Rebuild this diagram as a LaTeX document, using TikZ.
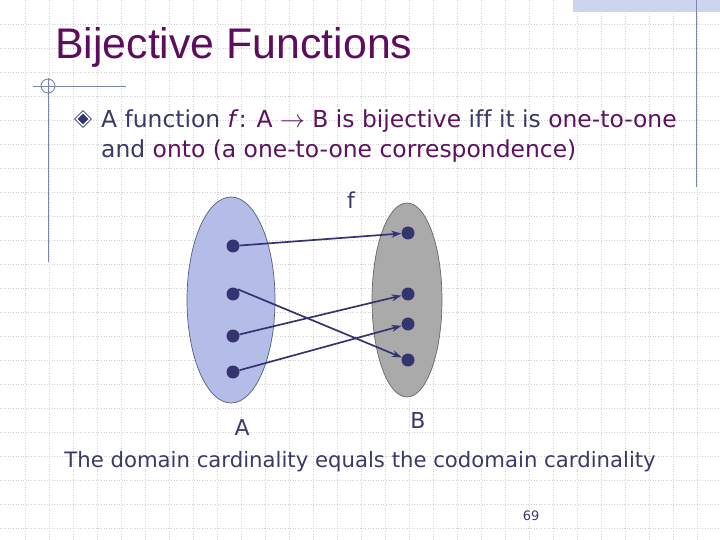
\documentclass[tikz,border=0pt]{standalone}
\usepackage{fontspec}
\setmainfont{DejaVu Sans}[Ligatures=NoCommon]
\newfontfamily\titlefont{Liberation Sans}
\usetikzlibrary{arrows.meta,shapes.geometric}
\definecolor{titleplum}{RGB}{94,12,94}
\definecolor{plum}{RGB}{92,18,96}
\definecolor{ink}{RGB}{58,58,104}
\definecolor{dotnavy}{RGB}{52,52,112}
\definecolor{setblue}{RGB}{180,188,232}
\definecolor{setgrey}{RGB}{170,170,170}
\definecolor{rulegrey}{RGB}{120,134,176}
\definecolor{gridgrey}{RGB}{208,208,212}
\definecolor{band}{RGB}{204,212,238}

\begin{document}
\begin{tikzpicture}[x=1bp,y=-1bp,
  gridline/.style={draw=gridgrey,dotted,line width=0.6pt},
  deco/.style={draw=rulegrey,line width=0.9pt},
  set/.style={ellipse,inner sep=0pt,line width=0.7pt},
  elem/.style={circle,fill=dotnavy,inner sep=0pt,minimum size=13bp},
  map/.style={-{Stealth[length=10pt,width=7pt]},draw=dotnavy,line width=1.7pt},
  body/.style={anchor=base west,inner sep=0pt,text=ink,
               font=\fontsize{23.5}{28}\selectfont},
  lbl/.style={inner sep=0pt,text=ink,font=\fontsize{22}{26}\selectfont}]

\useasboundingbox (0,0) rectangle (720,540);
\fill[white] (0,0) rectangle (720,540);

% slide background
\foreach \k in {1,...,30}
  \draw[gridline] (24*\k+1,0) -- (24*\k+1,540);
\foreach \k in {1,...,22}
  \draw[gridline] (0,24*\k) -- (720,24*\k);
\fill[band] (573,0) rectangle (720,12);
\draw[deco] (696,0) -- (696,187);
\draw[deco] (48,78) -- (48,262);
\draw[deco] (33,86) -- (126,86);
\draw[deco] (48,86) circle (7bp);

\node[anchor=base west,inner sep=0pt,text=titleplum,
  font=\titlefont\fontsize{43}{48}\selectfont] (title) at (55,59)
  {Bijective Functions};

\node[diamond,draw=ink,fill=white,inner sep=0pt,minimum size=17bp,
  line width=0.7pt] (bul) at (83,119) {};
\node[diamond,fill=dotnavy,inner sep=0pt,minimum size=11bp] (bulcore) at (bul) {};

\node[body] (line1) at (101,128) {A function \textcolor{plum}{\textit{f}: A
  $\rightarrow$ B is bijective} iff it is \textcolor{plum}{one-to-one}};
\node[body] (line2) at (101,158) {and \textcolor{plum}{onto (a one-to-one
  correspondence)}};

% the two sets
\node[set,draw=rulegrey!70!black,fill=setblue,minimum width=88bp,
  minimum height=206bp] (setA) at (231,300) {};
\node[set,draw=black!60,fill=setgrey,minimum width=70bp,
  minimum height=194bp] (setB) at (407,300) {};

\node[elem] (a1) at (233,246) {};
\node[elem] (a2) at (233,294) {};
\node[elem] (a3) at (233,336) {};
\node[elem] (a4) at (233,372) {};
\node[elem] (b1) at (408,233) {};
\node[elem] (b2) at (408,294) {};
\node[elem] (b3) at (408,324) {};
\node[elem] (b4) at (408,360) {};

\draw[map] (a1) -- (b1);
\draw[map] (a2.north east) -- (b4);
\draw[map] (a3) -- (b2);
\draw[map] (a4) -- (b3);

\node[lbl] (fname) at (351,200) {f};
\node[lbl] (nameA) at (242,428) {A};
\node[lbl] (nameB) at (418,421) {B};

\node[lbl,font=\fontsize{21.3}{26}\selectfont] (note) at (360,462)
  {The domain cardinality equals the codomain cardinality};
\node[inner sep=0pt,text=ink,font=\fontsize{13}{15}\selectfont] (page)
  at (531,516) {69};
\end{tikzpicture}
\end{document}
